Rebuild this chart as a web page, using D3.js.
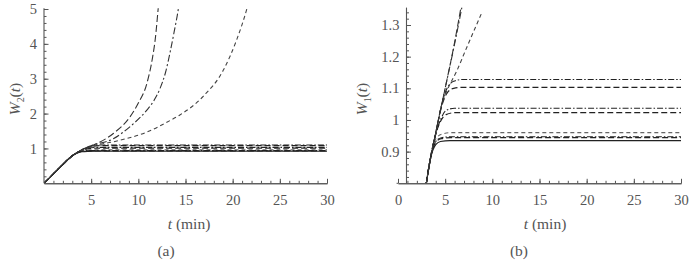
<!DOCTYPE html>
<html>
<head>
<meta charset="utf-8">
<script src="https://cdn.jsdelivr.net/npm/d3@7"></script>
<style>
  body { margin: 0; background: #fff; }
  text { font-family: "Liberation Serif", "DejaVu Serif", serif; fill: #555; }
</style>
</head>
<body>
<svg id="chart" width="695" height="262"></svg>
<script>
// ---- data ----
// panel (a): W2(t), t in minutes
const riseA = [[0, 0], [1, 0.27], [2, 0.54], [3, 0.79]];
const w2Flat1 = [[3.5, 0.88], [4, 0.95], [4.6, 1.03], [5.3, 1.08], [6.2, 1.10], [30, 1.10]];
const w2Flat2 = [[3.5, 0.88], [4, 0.95], [4.6, 1.02], [5.3, 1.065], [6.2, 1.08], [30, 1.08]];
const w2Flat3 = [[3.5, 0.88], [4, 0.94], [4.6, 1.0], [5.3, 1.025], [6, 1.03], [30, 1.03]];
const w2Flat4 = [[3.5, 0.88], [4, 0.94], [4.6, 0.99], [5.3, 1.005], [6, 1.01], [30, 1.01]];
const w2Flat5 = [[3.5, 0.875], [4, 0.93], [4.6, 0.955], [5.5, 0.96], [30, 0.96]];
const w2Flat6 = [[3.5, 0.87], [4, 0.92], [4.6, 0.937], [5.5, 0.94], [30, 0.94]];
const w2Flat7 = [[3.5, 0.87], [4, 0.915], [4.6, 0.928], [5.5, 0.93], [30, 0.93]];
const w2Flat8 = [[3.5, 0.865], [4, 0.905], [4.6, 0.918], [5.5, 0.92], [30, 0.92]];
const w2GrowA = [[3.5, 0.88], [4, 0.96], [5, 1.07], [5.6, 1.14], [7.35, 1.43], [9.1, 1.9], [10, 2.3], [10.9, 2.86], [11.5, 3.6], [11.8, 4.15], [12.1, 5.0], [12.3, 5.6]];
const w2GrowB = [[3.5, 0.88], [4, 0.96], [5, 1.08], [7.35, 1.28], [9.1, 1.62], [10.9, 2.1], [11.6, 2.35], [12.3, 2.72], [12.9, 3.2], [13.36, 3.75], [13.8, 4.35], [14.24, 5.0], [14.4, 5.3]];
const w2GrowC = [[3.5, 0.88], [4, 0.96], [5, 1.06], [7.35, 1.19], [10.9, 1.47], [13.36, 1.8], [14.4, 1.96], [16.9, 2.5], [19, 3.24], [20.4, 4.1], [21.5, 5.0], [21.7, 5.2]];

// panel (b): W1(t)
const w1Flat1 = [[3, 0.8], [3.5, 0.89], [4, 0.958], [4.6, 1.045], [5.2, 1.1], [5.9, 1.122], [6.8, 1.128], [30, 1.128]];
const w1Flat2 = [[3, 0.8], [3.5, 0.89], [4, 0.958], [4.6, 1.04], [5.2, 1.085], [5.9, 1.1], [6.8, 1.103], [30, 1.103]];
const w1Flat3 = [[3, 0.8], [3.5, 0.89], [4, 0.955], [4.5, 1.0], [5.1, 1.03], [6, 1.037], [30, 1.037]];
const w1Flat4 = [[3, 0.8], [3.5, 0.89], [4, 0.955], [4.5, 0.995], [5.1, 1.017], [6, 1.023], [30, 1.023]];
const w1Flat5 = [[3, 0.8], [3.5, 0.89], [4, 0.94], [4.7, 0.956], [5.7, 0.96], [30, 0.96]];
const w1Flat6 = [[3, 0.8], [3.5, 0.888], [4, 0.932], [4.6, 0.944], [5.6, 0.947], [30, 0.947]];
const w1Flat7 = [[3, 0.8], [3.5, 0.888], [4, 0.93], [4.6, 0.941], [5.6, 0.944], [30, 0.944]];
const w1Flat8 = [[3, 0.8], [3.5, 0.885], [4, 0.922], [4.5, 0.932], [5.5, 0.935], [30, 0.935]];
const w1GrowA = [[3, 0.8], [3.5, 0.885], [4, 0.96], [5, 1.1], [6, 1.245], [6.7, 1.36]];
const w1GrowB = [[3, 0.8], [3.5, 0.885], [4, 0.96], [5, 1.1], [6, 1.24], [6.8, 1.36]];
const w1GrowC = [[3, 0.8], [3.5, 0.89], [4, 0.958], [4.6, 1.045], [5.3, 1.1], [6.2, 1.153], [7.3, 1.23], [8.9, 1.34]];

// ticks
const xTicksA = [5, 10, 15, 20, 25, 30];
const yTicksA = [1, 2, 3, 4, 5];
const xTicksB = [0, 5, 10, 15, 20, 25, 30];
const yTicksB = [0.9, 1, 1.1, 1.2, 1.3];

// line styles
const styles = {
  dashDot:  { dash: '6,2,1.5,2', color: '#222', width: 1.1 },
  longDash: { dash: '6,3', color: '#222', width: 1.2 },
  grayDash: { dash: '4,3', color: '#666', width: 1.1 },
  solid:    { dash: null, color: '#222', width: 1.2 },
  growA:    { dash: '7,3', color: '#333', width: 1.1 },
  growB:    { dash: '7,2.5,2,2.5', color: '#333', width: 1.1 },
  growC:    { dash: '4,3', color: '#444', width: 1.1 }
};

const seriesA = [
  { values: riseA.concat(w2Flat1), style: 'dashDot' },
  { values: riseA.concat(w2Flat2), style: 'longDash' },
  { values: riseA.concat(w2Flat3), style: 'dashDot' },
  { values: riseA.concat(w2Flat4), style: 'longDash' },
  { values: riseA.concat(w2Flat5), style: 'grayDash' },
  { values: riseA.concat(w2Flat6), style: 'dashDot' },
  { values: riseA.concat(w2Flat7), style: 'longDash' },
  { values: riseA.concat(w2Flat8), style: 'solid' },
  { values: riseA.concat(w2GrowC), style: 'growC' },
  { values: riseA.concat(w2GrowB), style: 'growB' },
  { values: riseA.concat(w2GrowA), style: 'growA' }
];

const seriesB = [
  { values: w1Flat1, style: 'dashDot' },
  { values: w1Flat2, style: 'longDash' },
  { values: w1Flat3, style: 'dashDot' },
  { values: w1Flat4, style: 'longDash' },
  { values: w1Flat5, style: 'grayDash' },
  { values: w1Flat6, style: 'dashDot' },
  { values: w1Flat7, style: 'longDash' },
  { values: w1Flat8, style: 'solid' },
  { values: w1GrowC, style: 'growC' },
  { values: w1GrowB, style: 'growB' },
  { values: w1GrowA, style: 'growA' }
];

const svg = d3.select('#chart');

function drawPanel(cfg) {
  const x = d3.scaleLinear().domain([0, 30]).range(cfg.xRange);
  const y = d3.scaleLinear().domain(cfg.yDomain).range(cfg.yRange);
  const g = svg.append('g');

  // clip
  g.append('clipPath').attr('id', cfg.id)
    .append('rect')
    .attr('x', x(0)).attr('y', y(cfg.yTop))
    .attr('width', x(30) - x(0)).attr('height', y(cfg.yDomain[0]) - y(cfg.yTop));

  const line = d3.line()
    .x(d => x(d[0]))
    .y(d => y(d[1]))
    .curve(d3.curveMonotoneX);

  g.append('g').attr('clip-path', `url(#${cfg.id})`)
    .selectAll('path')
    .data(cfg.series)
    .join('path')
    .attr('d', d => line(d.values))
    .attr('fill', 'none')
    .attr('stroke', d => styles[d.style].color)
    .attr('stroke-width', d => styles[d.style].width)
    .attr('stroke-dasharray', d => styles[d.style].dash);

  // x axis (ticks point up, into the plot)
  const xAxisG = g.append('g').attr('transform', `translate(0, ${y(cfg.yDomain[0])})`);
  xAxisG.call(d3.axisBottom(x).tickValues(d3.range(1, 31)).tickSizeInner(-2.5).tickSizeOuter(0).tickFormat(''));
  xAxisG.append('g').call(d3.axisBottom(x).tickValues(cfg.xTicks).tickSizeInner(-4.5).tickSizeOuter(0).tickPadding(11));
  if (cfg.xStart !== undefined) {
    xAxisG.append('line').attr('x1', x(cfg.xStart)).attr('x2', x(0)).attr('stroke', '#555');
  }

  // y axis (ticks point right)
  const yAxisG = g.append('g').attr('transform', `translate(${x(cfg.yAxisAt)}, 0)`);
  yAxisG.call(d3.axisLeft(y).tickValues(cfg.yMinor).tickSizeInner(-2.5).tickSizeOuter(0).tickFormat(''));
  yAxisG.select('.domain').attr('d', `M0,${y(cfg.yDomain[0])}V${y(cfg.yTop)}`);
  yAxisG.append('g').call(d3.axisLeft(y).tickValues(cfg.yTicks).tickSizeInner(-4.5).tickSizeOuter(0).tickPadding(7).tickFormat(cfg.yFormat))
    .select('.domain').remove();

  svg.selectAll('.domain').attr('stroke', '#555').attr('stroke-width', 1.1);
  svg.selectAll('.tick line').attr('stroke', '#555');
  g.selectAll('.tick text')
    .attr('font-size', 14.5)
    .attr('fill', '#555');
  g.selectAll('g').attr('font-family', null).attr('font-size', null);

  // axis titles
  const xt = g.append('text')
    .attr('x', cfg.xTitleX).attr('y', 229)
    .attr('text-anchor', 'middle')
    .attr('font-size', 15.5);
  xt.append('tspan').attr('font-style', 'italic').text('t');
  xt.append('tspan').text(' (min)');

  const yt = g.append('text')
    .attr('transform', `translate(${cfg.yTitleX}, 99) rotate(-90)`)
    .attr('text-anchor', 'middle')
    .attr('font-size', 15.5);
  yt.append('tspan').attr('font-style', 'italic').text('W');
  yt.append('tspan').attr('dy', 3.5).attr('font-size', 10).text(cfg.sub);
  yt.append('tspan').attr('dy', -3.5).text('(');
  yt.append('tspan').attr('font-style', 'italic').text('t');
  yt.append('tspan').text(')');

  g.append('text')
    .attr('x', cfg.capX).attr('y', 256)
    .attr('text-anchor', 'middle')
    .attr('font-size', 15.5)
    .text(cfg.caption);
}

drawPanel({
  id: 'clipA',
  xRange: [44, 327],
  yDomain: [0, 5], yRange: [183.3, 9], yTop: 5.02,
  yAxisAt: 0,
  xTicks: xTicksA, yTicks: yTicksA,
  yMinor: d3.range(0.2, 5.01, 0.2),
  yFormat: d3.format('d'),
  series: seriesA,
  xTitleX: 189, yTitleX: 20, capX: 166,
  sub: '2', caption: '(a)'
});

drawPanel({
  id: 'clipB',
  xRange: [398, 681],
  yDomain: [0.8, 1.3], yRange: [183.3, 25], yTop: 1.355,
  yAxisAt: 0.9,
  xStart: -0.15,
  xTicks: xTicksB, yTicks: yTicksB,
  yMinor: d3.range(0.82, 1.351, 0.02),
  yFormat: d => (d === 1 ? '1' : d3.format('.1f')(d)),
  series: seriesB,
  xTitleX: 545, yTitleX: 367, capX: 519,
  sub: '1', caption: '(b)'
});
</script>
</body>
</html>
